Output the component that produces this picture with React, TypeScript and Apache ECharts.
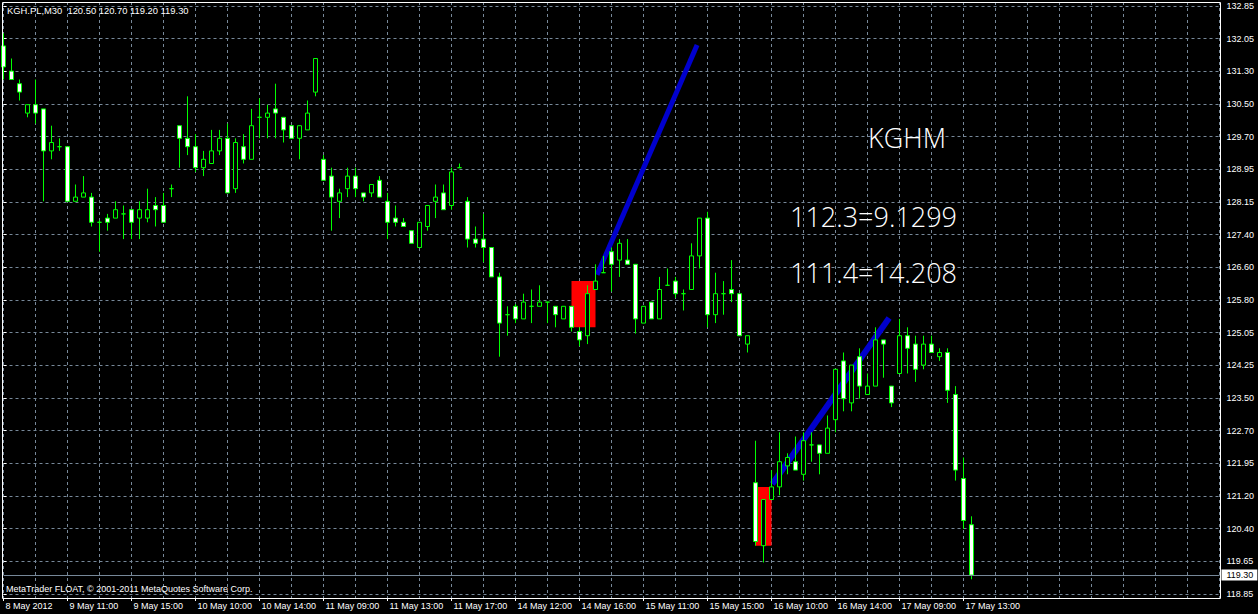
import React, { useEffect, useRef } from 'react';
import * as echarts from 'echarts';

const SYMBOL = 'KGH.PL,M30';
const COPYRIGHT = 'MetaTrader FLOAT, © 2001-2011 MetaQuotes Software Corp.';
const N_SLOTS = 153;

const xTickLabels = ['8 May 2012', '9 May 11:00', '9 May 15:00', '10 May 10:00', '10 May 14:00', '11 May 09:00', '11 May 13:00', '11 May 17:00', '14 May 12:00', '14 May 16:00', '15 May 11:00', '15 May 15:00', '16 May 10:00', '16 May 14:00', '17 May 09:00', '17 May 13:00'];
const yTickLabels = ['118.85', '119.65', '120.40', '121.20', '121.95', '122.70', '123.50', '124.25', '125.05', '125.80', '126.60', '127.40', '128.15', '128.95', '129.70', '130.50', '131.30', '132.05', '132.85'];

const opens = [131.90, 131.30, 131.00, 130.30, 130.50, 130.40, 129.40, 129.50, 129.50, 128.20, 128.30, 128.30, 127.70, 127.80, 127.80, 127.90, 128.00, 127.80, 127.80, 128.10, 128.10, 128.50, 130.00, 129.70, 129.50, 129.00, 129.10, 129.40, 129.70, 128.50, 129.50, 129.20, 130.20, 130.20, 130.40, 130.20, 130.00, 129.70, 129.90, 130.80, 129.20, 128.80, 128.20, 128.50, 128.80, 128.40, 128.40, 128.70, 128.20, 127.80, 127.70, 127.50, 127.10, 127.60, 128.20, 128.40, 128.10, 129.00, 128.20, 127.30, 127.30, 127.10, 126.40, 125.50, 125.70, 125.40, 125.70, 125.70, 125.80, 125.70, 125.40, 125.70, 125.10, 125.00, 126.10, 126.50, 127.00, 126.80, 126.80, 126.70, 125.30, 125.80, 125.40, 126.20, 126.30, 126.00, 126.10, 126.90, 127.80, 125.50, 126.00, 126.10, 126.00, 124.80, 121.50, 120.00, 121.10, 121.40, 121.90, 122.00, 121.70, 122.40, 122.40, 122.20, 123.00, 124.40, 123.40, 124.50, 123.60, 123.80, 124.90, 123.80, 124.10, 125.00, 124.80, 124.30, 124.80, 124.50, 124.60, 123.60, 121.60, 120.50];
const highs = [132.20, 131.60, 131.10, 130.50, 131.10, 130.40, 130.00, 129.70, 129.50, 128.60, 128.80, 128.40, 127.75, 127.90, 128.20, 128.10, 128.00, 128.20, 128.50, 128.30, 128.40, 128.60, 130.00, 130.70, 129.80, 129.40, 129.90, 129.90, 130.05, 129.70, 129.80, 130.40, 130.65, 130.50, 131.00, 130.20, 130.00, 130.00, 130.60, 131.60, 129.30, 129.00, 128.50, 129.00, 129.00, 128.40, 128.60, 128.80, 128.40, 128.10, 127.80, 127.50, 127.70, 128.10, 128.60, 128.60, 129.00, 129.10, 128.30, 127.60, 127.90, 127.10, 126.50, 125.70, 125.75, 126.00, 126.10, 126.20, 125.80, 125.70, 125.70, 125.70, 125.20, 126.20, 126.70, 126.90, 127.10, 127.30, 127.30, 126.70, 125.70, 125.80, 126.40, 126.60, 126.40, 126.10, 127.20, 127.80, 127.95, 126.50, 126.30, 126.80, 126.00, 125.00, 122.50, 121.10, 121.80, 122.70, 122.20, 122.60, 122.70, 122.70, 122.40, 123.10, 124.20, 124.60, 124.30, 124.70, 124.10, 125.20, 124.90, 123.80, 125.40, 125.20, 125.00, 125.00, 125.00, 124.70, 124.70, 123.80, 122.10, 120.70];
const lows = [131.10, 131.10, 130.60, 130.20, 130.05, 128.20, 129.20, 129.40, 128.20, 128.20, 128.30, 127.60, 127.00, 127.50, 127.80, 127.30, 127.30, 127.30, 127.70, 127.60, 127.70, 128.30, 129.00, 129.30, 128.90, 128.80, 129.10, 129.30, 128.40, 128.40, 129.10, 129.20, 129.70, 129.70, 129.70, 129.60, 129.70, 129.20, 129.90, 130.70, 128.70, 127.50, 127.80, 128.30, 128.30, 128.20, 128.30, 128.30, 127.30, 127.60, 127.60, 127.20, 127.10, 127.50, 127.80, 128.00, 128.00, 129.00, 127.10, 127.10, 126.75, 126.40, 124.50, 125.00, 125.30, 125.40, 125.30, 125.70, 125.30, 125.20, 125.40, 125.10, 124.75, 124.80, 126.10, 126.50, 126.05, 126.40, 126.70, 125.05, 125.30, 125.40, 125.40, 126.20, 125.90, 125.60, 126.10, 126.60, 125.20, 125.30, 125.50, 125.80, 125.00, 124.60, 120.00, 119.60, 121.10, 121.20, 121.70, 121.80, 121.55, 122.00, 121.70, 122.20, 122.70, 123.20, 123.20, 123.50, 123.60, 123.80, 124.00, 123.30, 124.10, 124.10, 123.90, 124.20, 124.60, 124.40, 123.40, 121.55, 120.40, 119.20];
const closes = [131.40, 131.10, 130.80, 130.50, 130.30, 129.40, 129.60, 129.50, 128.20, 128.30, 128.40, 127.70, 127.70, 127.70, 128.00, 127.90, 127.70, 128.00, 128.00, 128.00, 127.70, 128.50, 129.70, 129.50, 129.00, 129.20, 129.40, 129.70, 128.40, 129.60, 129.20, 130.00, 130.20, 130.30, 130.30, 129.90, 129.70, 130.00, 130.30, 131.60, 128.70, 128.30, 128.40, 128.80, 128.50, 128.30, 128.60, 128.30, 127.70, 127.70, 127.60, 127.20, 127.70, 128.10, 128.30, 128.00, 128.90, 129.00, 127.30, 127.20, 127.10, 126.40, 125.30, 125.50, 125.40, 125.80, 125.70, 125.80, 125.80, 125.50, 125.70, 125.20, 124.90, 126.00, 126.30, 126.50, 126.70, 127.20, 126.70, 125.40, 125.70, 125.40, 126.10, 126.20, 126.00, 126.00, 126.90, 127.80, 125.50, 126.00, 126.00, 126.00, 125.00, 125.00, 120.10, 121.10, 121.40, 122.00, 122.10, 121.80, 122.50, 122.40, 122.20, 122.80, 124.20, 123.50, 124.30, 123.80, 123.80, 124.90, 124.80, 123.40, 125.00, 124.70, 124.20, 124.80, 124.60, 124.60, 123.70, 121.80, 120.60, 119.30];

// trend lines (bar index, price)
const trendStartX = [74.2, 96.1];
const trendStartY = [126.45, 121.47];
const trendEndX = [86.7, 110.7];
const trendEndY = [131.92, 125.42];
const trendWidths = [5, 6];

// red rectangles (bar index range, price range)
const zoneFrom = [71, 94];
const zoneTo = [74, 96];
const zoneTop = [126.30, 121.40];
const zoneBottom = [125.20, 120.00];

const annotationTitle = 'KGHM';
const annotationLines = ['112.3=9.1299', '111.4=14.208'];

const SMALL_FONT = 'Liberation Sans, Arial, sans-serif';
const BIG_FONT = 'Open Sans, Roboto, sans-serif';
const GRID_COLOR = '#778899';
const BULL_BEAR_LINE = '#00ff00';

export default function App() {
  const ref = useRef<HTMLDivElement | null>(null);

  useEffect(() => {
    if (!ref.current) return;
    const chart = echarts.init(ref.current, undefined, { renderer: 'svg' });

    const categories = Array.from({ length: N_SLOTS }, (_, i) => String(i));
    const candleData = opens.map((o, i) => [o, closes[i], lows[i], highs[i]]);
    const yFirst = parseFloat(yTickLabels[0]);
    const yLast = parseFloat(yTickLabels[yTickLabels.length - 1]);
    const yStep = (yLast - yFirst) / (yTickLabels.length - 1);
    const yTicks = yTickLabels.map((_, i) => yFirst + i * yStep);
    const yPad = yStep * 0.1225;
    const yLabel = (v: number) => {
      let best = 0;
      let bd = Infinity;
      yTicks.forEach((t, i) => {
        const d = Math.abs(t - v);
        if (d < bd) { bd = d; best = i; }
      });
      return yTickLabels[best];
    };
    const last = candleData.length - 1;
    const header = `${SYMBOL}\u00a0\u00a0${[opens[last], highs[last], lows[last], closes[last]].map((v) => v.toFixed(2)).join(' ')}`;
    const labelShown = (i: number) => i % 8 === 0 && i / 8 < xTickLabels.length;

    const trendSeries = trendStartX.map((x0, i) => ({
      type: 'line',
      xAxisIndex: 1,
      yAxisIndex: 0,
      data: [[x0, trendStartY[i]], [trendEndX[i], trendEndY[i]]],
      symbol: 'none',
      silent: true,
      z: 1,
      lineStyle: { color: '#0000cd', width: trendWidths[i], cap: 'butt' },
    }));

    chart.setOption({
      animation: false,
      backgroundColor: '#000000',
      grid: { left: 3.5, right: 38.5, top: 2, bottom: 16, show: false },
      xAxis: [
        {
          type: 'category',
          data: categories,
          boundaryGap: false,
          axisLine: { show: false },
          axisTick: { show: true, interval: (i: number) => labelShown(i), length: 3, lineStyle: { color: '#ffffff' } },
          axisLabel: {
            interval: (i: number) => labelShown(i),
            formatter: (_v: string, i: number) => xTickLabels[i / 8] ?? '',
            color: '#ffffff',
            fontSize: 9,
            fontFamily: SMALL_FONT,
            align: 'left',
            margin: 3,
            padding: [0, 0, 0, 2],
          },
          splitLine: { show: true, interval: (i: number) => i % 4 === 0, lineStyle: { color: GRID_COLOR, type: [3, 3], width: 1 } },
        },
        { type: 'value', min: 0, max: N_SLOTS - 1, show: false },
      ],
      yAxis: {
        type: 'value',
        position: 'right',
        min: yFirst - yPad,
        max: yLast + yPad,
        scale: true,
        axisLine: { show: false },
        axisTick: { show: true, length: 3, customValues: yTicks, lineStyle: { color: '#ffffff' } },
        axisLabel: { customValues: yTicks, formatter: (v: number) => yLabel(v), color: '#ffffff', fontSize: 9, fontFamily: SMALL_FONT, margin: 7 },
        splitLine: { show: true, lineStyle: { color: GRID_COLOR, type: [3, 3], width: 1 } },
      },
      series: [
        {
          type: 'line',
          xAxisIndex: 1,
          yAxisIndex: 0,
          data: [],
          silent: true,
          markArea: {
            silent: true,
            itemStyle: { color: '#ff0000', opacity: 1 },
            data: zoneFrom.map((x0, i) => [
              { coord: [x0, zoneTop[i]] },
              { coord: [zoneTo[i], zoneBottom[i]] },
            ]),
          },
        },
        ...trendSeries,
        {
          type: 'candlestick',
          xAxisIndex: 0,
          yAxisIndex: 0,
          data: candleData,
          barWidth: 4,
          z: 3,
          itemStyle: { color: '#000000', color0: '#ffffff', borderColor: BULL_BEAR_LINE, borderColor0: BULL_BEAR_LINE, borderWidth: 1 },
          markLine: {
            silent: true,
            symbol: ['none', 'none'],
            lineStyle: { color: GRID_COLOR, type: 'solid', width: 1 },
            label: {
              position: 'end',
              distance: 2,
              formatter: () => closes[last].toFixed(2),
              backgroundColor: '#ffffff',
              color: '#000000',
              fontSize: 9,
              fontFamily: SMALL_FONT,
              padding: [1, 4, 1, 5],
            },
            data: [{ yAxis: closes[last] }],
          },
        },
      ],
      graphic: [
        { type: 'rect', silent: true, z: 10, shape: { x: 2.5, y: 2.5, width: 1218, height: 596 }, style: { fill: 'none', stroke: '#ffffff', lineWidth: 1 } },
        { type: 'text', silent: true, z: 10, x: 7, y: 10, style: { text: header, fill: '#ffffff', fontSize: 9.4, fontFamily: SMALL_FONT, verticalAlign: 'middle' } },
        { type: 'text', silent: true, z: 10, x: 6, y: 589, style: { text: COPYRIGHT, fill: '#ffffff', fontSize: 9, fontFamily: SMALL_FONT, verticalAlign: 'middle' } },
        { type: 'text', silent: true, z: 10, x: 868, y: 137, style: { text: annotationTitle, fill: '#ffffff', fontSize: 27, fontWeight: 300, fontFamily: BIG_FONT, verticalAlign: 'middle' } },
        ...annotationLines.map((t, i) => ({ type: 'text', silent: true, z: 10, x: 790, y: 216 + i * 56, style: { text: t, fill: '#ffffff', fontSize: 27, fontWeight: 300, fontFamily: BIG_FONT, verticalAlign: 'middle' } })),
      ],
    });

    return () => chart.dispose();
  }, []);

  return <div ref={ref} style={{ position: 'fixed', left: 0, top: 0, width: 1258, height: 614, background: '#000' }} />;
}
